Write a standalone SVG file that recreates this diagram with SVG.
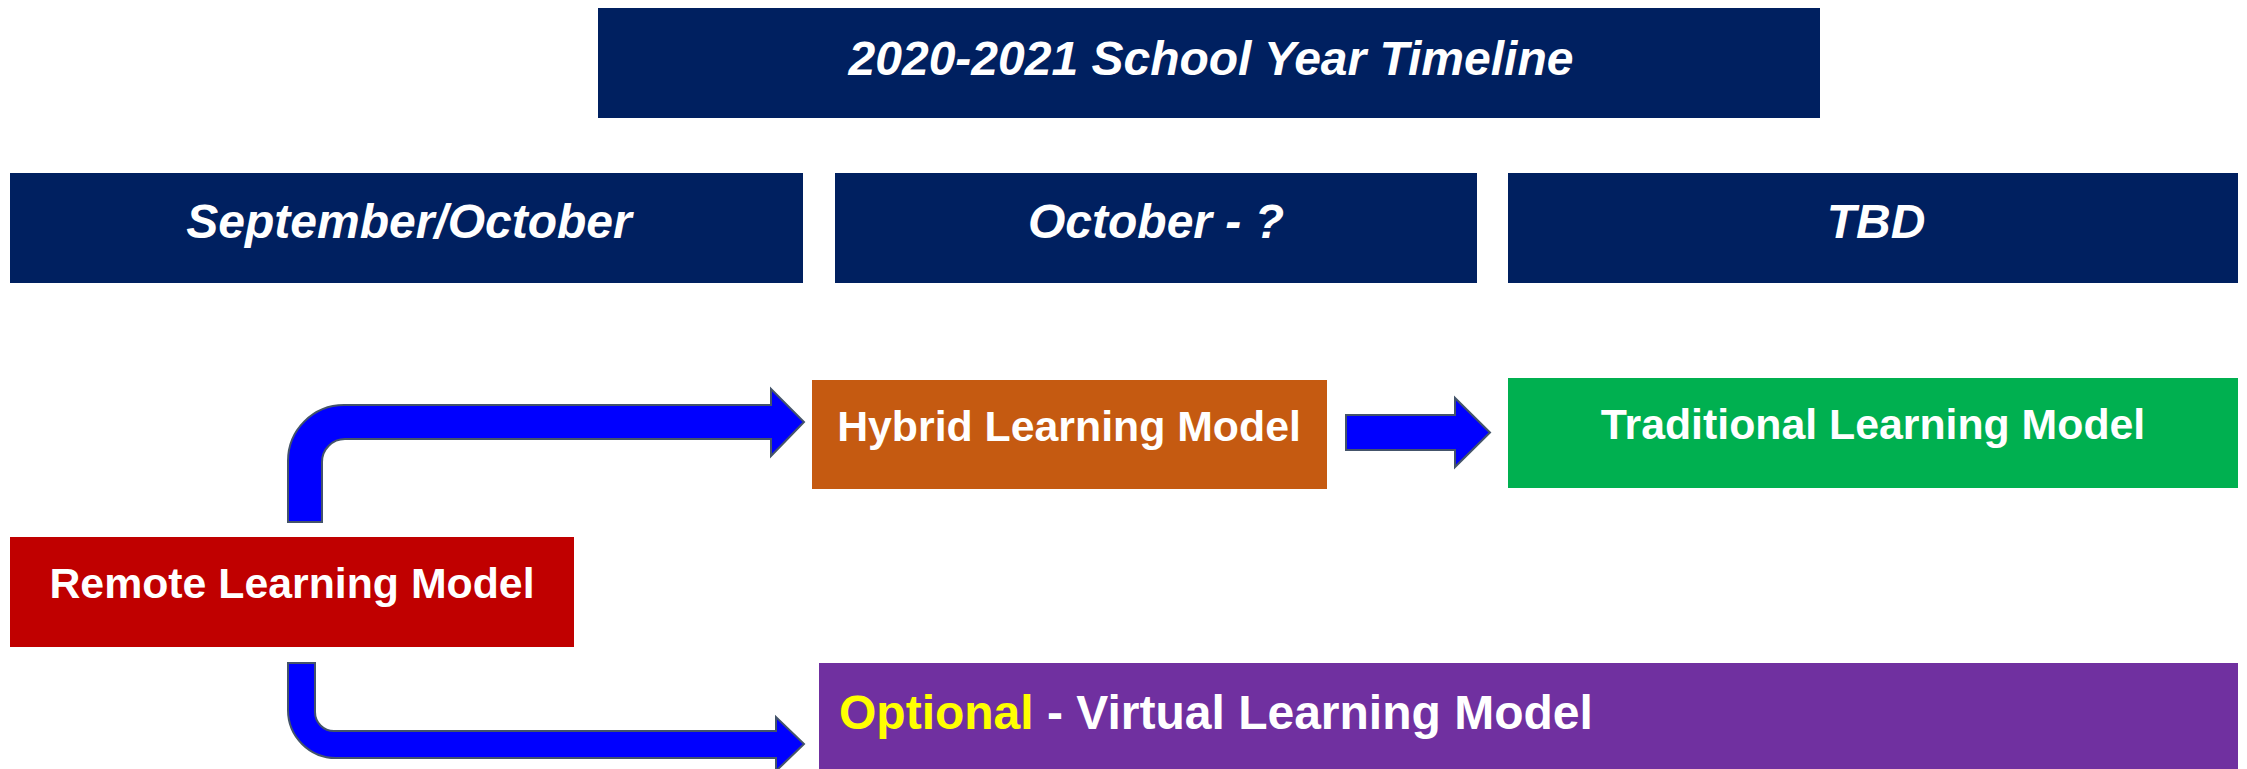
<svg xmlns="http://www.w3.org/2000/svg" width="2247" height="769" viewBox="0 0 2247 769">
<style>
.t{font-family:"Liberation Sans",Arial,sans-serif;font-weight:bold;fill:#fff}
.hd{font-size:48px;font-style:italic;text-anchor:middle}
.md{font-size:42.8px;text-anchor:middle}
.arr{fill:#0000FF;stroke:#44546A;stroke-width:2;stroke-linejoin:miter}
</style>
<rect width="2247" height="769" fill="#fff"/>
<g id="title">
<rect x="598" y="8" width="1222" height="110" fill="#002060"/>
<text class="t hd" x="1211" y="75">2020-2021 School Year Timeline</text>
</g>
<g id="hdr-sepoct">
<rect x="10" y="173" width="793" height="110" fill="#002060"/>
<text class="t hd" x="409" y="238">September/October</text>
</g>
<g id="hdr-oct">
<rect x="835" y="173" width="642" height="110" fill="#002060"/>
<text class="t hd" x="1156" y="238">October - ?</text>
</g>
<g id="hdr-tbd">
<rect x="1508" y="173" width="730" height="110" fill="#002060"/>
<text class="t hd" x="1876" y="238">TBD</text>
</g>
<g id="hybrid">
<rect x="812" y="380" width="515" height="109" fill="#C55A11"/>
<text class="t md" x="1069" y="441">Hybrid Learning Model</text>
</g>
<g id="traditional">
<rect x="1508" y="378" width="730" height="110" fill="#00B050"/>
<text class="t md" x="1873" y="439">Traditional Learning Model</text>
</g>
<g id="remote">
<rect x="10" y="537" width="564" height="110" fill="#C00000"/>
<text class="t md" x="292" y="598">Remote Learning Model</text>
</g>
<g id="optional">
<rect x="819" y="663" width="1419" height="110" fill="#7030A0"/>
<text class="t" x="839" y="729" font-size="48"><tspan fill="#FFFF00">Optional</tspan> - Virtual Learning Model</text>
</g>
<g id="connectors">
<path class="arr" d="M288,522 L288,461 A56,56 0 0 1 344,405 L771,405 L771,389 L804,422 L771,456 L771,439 L345,439 A23,23 0 0 0 322,462 L322,522 Z"/>
<path class="arr" d="M288,663 L288,710 A48,48 0 0 0 336,758 L776,758 L776,771 L804,744 L776,717 L776,731 L334,731 A19,19 0 0 1 315,712 L315,663 Z"/>
<path class="arr" d="M1346,415 L1455,415 L1455,398 L1490,432.5 L1455,467 L1455,450 L1346,450 Z"/>
</g>
</svg>
